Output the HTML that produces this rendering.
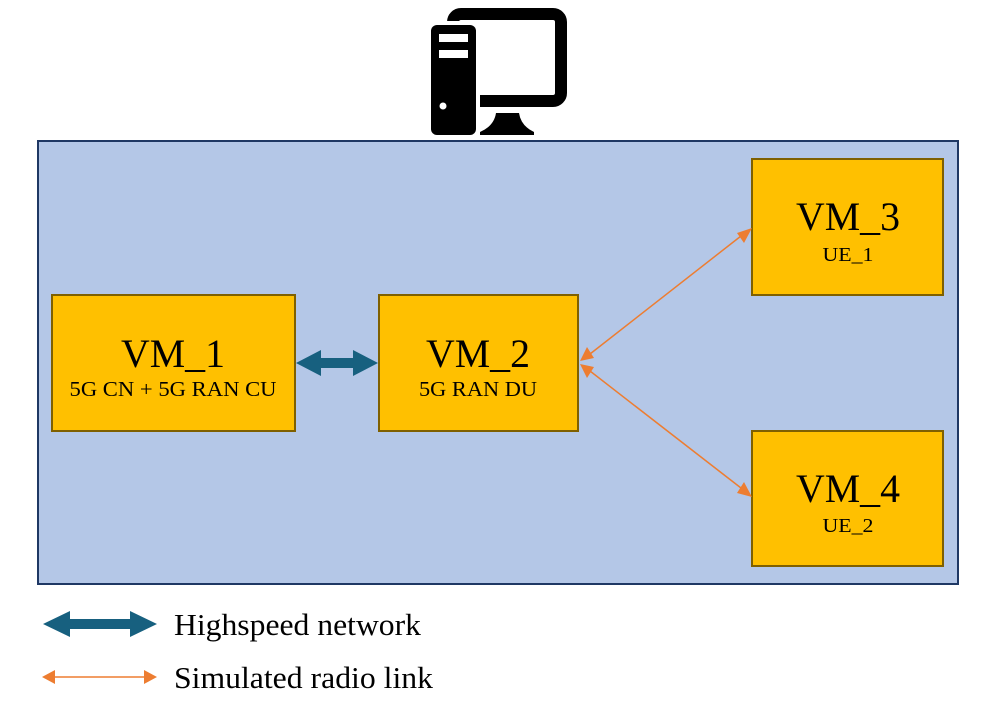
<!DOCTYPE html>
<html><head><meta charset="utf-8"><style>
html,body{margin:0;padding:0;background:#fff;}
svg{display:block;}
text{font-family:"Liberation Serif",serif;fill:#000;}
</style></head><body>
<svg width="997" height="708" viewBox="0 0 997 708" xmlns="http://www.w3.org/2000/svg">
<!-- computer icon -->
<rect x="453" y="14" width="108" height="87" rx="8" fill="#fff" stroke="#000" stroke-width="12"/>
<rect x="427" y="21" width="53" height="118" rx="7" fill="#fff"/>
<rect x="431" y="25" width="45" height="110" rx="6" fill="#000"/>
<rect x="439" y="34" width="29" height="8" fill="#fff"/>
<rect x="439" y="50" width="29" height="8" fill="#fff"/>
<circle cx="443" cy="106" r="3.5" fill="#fff"/>
<path d="M496 113 L519 113 Q521 126 534 132 L534 135 L480 135 L480 132 Q494 126 496 113 Z" fill="#000"/>
<!-- main container -->
<rect x="38" y="141" width="920" height="443" fill="#b4c7e7" stroke="#1f3864" stroke-width="2"/>
<!-- boxes -->
<g fill="#ffc000" stroke="#7f6000" stroke-width="2">
<rect x="52" y="295" width="243" height="136"/>
<rect x="379" y="295" width="199" height="136"/>
<rect x="752" y="159" width="191" height="136"/>
<rect x="752" y="431" width="191" height="135"/>
</g>
<g text-anchor="middle">
<text x="173" y="367" font-size="40" textLength="104" lengthAdjust="spacingAndGlyphs">VM_1</text>
<text x="173" y="396" font-size="21" textLength="207" lengthAdjust="spacingAndGlyphs">5G CN + 5G RAN CU</text>
<text x="478" y="367" font-size="40" textLength="104" lengthAdjust="spacingAndGlyphs">VM_2</text>
<text x="478" y="396" font-size="21" textLength="118" lengthAdjust="spacingAndGlyphs">5G RAN DU</text>
<text x="848" y="230" font-size="40" textLength="104" lengthAdjust="spacingAndGlyphs">VM_3</text>
<text x="848" y="261" font-size="20" textLength="51" lengthAdjust="spacingAndGlyphs">UE_1</text>
<text x="848" y="502" font-size="40" textLength="104" lengthAdjust="spacingAndGlyphs">VM_4</text>
<text x="848" y="532" font-size="20" textLength="51" lengthAdjust="spacingAndGlyphs">UE_2</text>
</g>
<!-- thick arrow -->
<path d="M296 363 L321 350 L321 358 L353 358 L353 350 L378 363 L353 376 L353 368 L321 368 L321 376 Z" fill="#17607f"/>
<!-- orange links -->
<g stroke="#ed7d31" stroke-width="1.5">
<line x1="590" y1="354" x2="741" y2="236"/>
<line x1="590" y1="371" x2="741" y2="488"/>
</g>
<g fill="#ed7d31">
<path d="M752 228 L744 243 L737 233 Z"/>
<path d="M580 361 L587 347 L594 358 Z"/>
<path d="M580 364 L594 367 L587 378 Z"/>
<path d="M752 497 L737 493 L744 482 Z"/>
</g>
<!-- legend -->
<path d="M43 624 L70 611 L70 619 L130 619 L130 611 L157 624 L130 637 L130 629 L70 629 L70 637 Z" fill="#17607f"/>
<line x1="54" y1="677" x2="146" y2="677" stroke="#ed7d31" stroke-width="1.5"/>
<path d="M42 677 L55 670 L55 684 Z" fill="#ed7d31"/>
<path d="M157 677 L144 670 L144 684 Z" fill="#ed7d31"/>
<text x="174" y="635" font-size="31" textLength="247" lengthAdjust="spacingAndGlyphs">Highspeed network</text>
<text x="174" y="688" font-size="31" textLength="259" lengthAdjust="spacingAndGlyphs">Simulated radio link</text>
</svg>
</body></html>
